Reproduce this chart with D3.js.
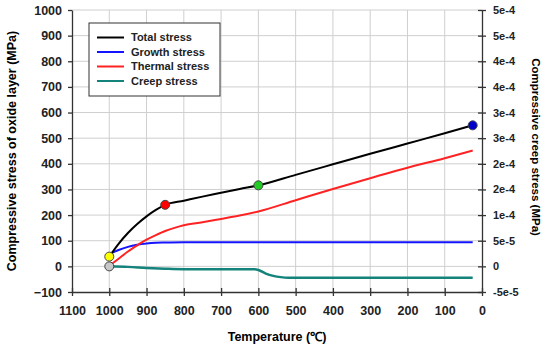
<!DOCTYPE html>
<html lang="en">
<head>
<meta charset="UTF-8">
<title>Oxide layer stress vs temperature</title>
<script src="https://d3js.org/d3.v7.min.js"></script>
<style>
    body { margin: 0; background: #fff; }
    svg { font-family: "Liberation Sans", Arial, sans-serif; font-weight: bold; }
    .grid line { stroke: #cfcfcf; stroke-width: 1; }
    .axis path, .axis line { stroke: #333; stroke-width: 1.3; }
    .axis text { fill: #222; }
</style>
</head>
<body>
<div id="chart"></div>
<script>
// temperatures (deg C) for each series, values in MPa
var totalTemp   = [1000, 975, 950, 925, 900, 875, 850, 800, 750, 700, 650, 600, 500, 400, 300, 200, 100, 25];
var totalVal    = [38, 88, 130, 165, 195, 220, 240, 256, 272, 287, 302, 316, 357, 398, 439, 479, 519, 550];

var growthTemp  = [1000, 975, 950, 925, 900, 875, 850, 800, 600, 400, 200, 25];
var growthVal   = [48, 64, 76, 84, 89, 92, 93, 94, 94, 94, 94, 94];

var thermalTemp = [1000, 975, 950, 925, 900, 875, 850, 825, 800, 750, 700, 650, 600, 500, 400, 300, 200, 100, 25];
var thermalVal  = [2, 30, 58, 82, 104, 122, 138, 150, 160, 172, 185, 198, 214, 258, 302, 344, 385, 422, 452];

// creep stress is plotted on the right axis
var creepTemp   = [1000, 950, 900, 850, 800, 700, 610, 600, 580, 560, 540, 520, 400, 200, 25];
var creepVal    = [0, -1e-6, -3e-6, -4.5e-6, -5.5e-6, -5.75e-6, -5.75e-6, -7e-6, -1.4e-5, -1.85e-5, -2.1e-5, -2.2e-5, -2.2e-5, -2.2e-5, -2.2e-5];

var markerTemp  = [1000, 1000, 850, 600, 25];
var markerVal   = [38, 0, 240, 316, 550];
var markerFill  = ["#ffff00", "#c8c8c8", "#ff0000", "#22cc22", "#0000cc"];

var xTicks      = [1100, 1000, 900, 800, 700, 600, 500, 400, 300, 200, 100, 0];
var yTicks      = [-100, 0, 100, 200, 300, 400, 500, 600, 700, 800, 900, 1000];
var y2Ticks     = [-5e-5, 0, 5e-5, 1e-4, 1.5e-4, 2e-4, 2.5e-4, 3e-4, 3.5e-4, 4e-4, 4.5e-4, 5e-4];
var y2Labels    = ["-5e-5", "0", "5e-5", "1e-4", "2e-4", "2e-4", "3e-4", "3e-4", "4e-4", "4e-4", "5e-4", "5e-4"];

var seriesNames  = ["Total stress", "Growth stress", "Thermal stress", "Creep stress"];
var seriesColors = ["#000000", "#1414ff", "#ff2222", "#13837b"];

var W = 542, H = 348;
var pL = 72, pR = 482, pT = 10, pB = 292;

var svg = d3.select("#chart").append("svg")
    .attr("width", W)
    .attr("height", H);

var x = d3.scaleLinear().domain([1100, 0]).range([pL, pR]);
var y = d3.scaleLinear().domain([-100, 1000]).range([pB, pT]);
var y2 = d3.scaleLinear().domain([-5e-5, 5e-4]).range([pB, pT]);

// grid
var grid = svg.append("g").attr("class", "grid");
grid.selectAll("line.v").data(xTicks.filter(function(d) { return d > 0 && d < 1100; }))
    .enter().append("line")
    .attr("x1", function(d) { return x(d); }).attr("x2", function(d) { return x(d); })
    .attr("y1", pT).attr("y2", pB);
grid.selectAll("line.h").data(yTicks.filter(function(d) { return d > -100; }))
    .enter().append("line")
    .attr("x1", pL).attr("x2", pR)
    .attr("y1", function(d) { return y(d); }).attr("y2", function(d) { return y(d); });

// axes
var gx = svg.append("g").attr("class", "axis")
    .attr("transform", "translate(0," + pB + ")")
    .call(d3.axisBottom(x).tickValues(xTicks).tickFormat(d3.format("d"))
        .tickSize(4).tickSizeOuter(0).tickPadding(10));
gx.selectAll(".tick line").attr("y1", -4);
gx.selectAll("text").style("font-size", "12.5px");

var gy = svg.append("g").attr("class", "axis")
    .attr("transform", "translate(" + pL + ",0)")
    .call(d3.axisLeft(y).tickValues(yTicks).tickFormat(d3.format("d"))
        .tickSize(4).tickSizeOuter(0).tickPadding(6));
gy.selectAll("text").style("font-size", "12.5px");

var gy2 = svg.append("g").attr("class", "axis")
    .attr("transform", "translate(" + pR + ",0)")
    .call(d3.axisRight(y2).tickValues(y2Ticks)
        .tickFormat(function(d, i) { return y2Labels[i]; })
        .tickSize(4).tickSizeOuter(0).tickPadding(7));
gy2.selectAll(".tick line").attr("x1", -4);
gy2.selectAll("text").style("font-size", "11px");

// axis titles
svg.append("text")
    .attr("transform", "translate(16," + ((pT + pB) / 2) + ") rotate(-90)")
    .attr("text-anchor", "middle")
    .style("font-size", "12.5px")
    .text("Compressive stress of oxide layer (MPa)");

svg.append("text")
    .attr("transform", "translate(532," + 147 + ") rotate(90)")
    .attr("text-anchor", "middle")
    .style("font-size", "11.5px")
    .text("Compressive creep stress (MPa)");

svg.append("text")
    .attr("x", 277).attr("y", 341)
    .attr("text-anchor", "middle")
    .style("font-size", "12.5px")
    .text("Temperature (\u2103)");

// lines
function pts(ts, vs) { return ts.map(function(t, i) { return [t, vs[i]]; }); }

var lineLeft = d3.line()
    .x(function(d) { return x(d[0]); })
    .y(function(d) { return y(d[1]); })
    .curve(d3.curveMonotoneX);
var lineRight = d3.line()
    .x(function(d) { return x(d[0]); })
    .y(function(d) { return y2(d[1]); })
    .curve(d3.curveMonotoneX);

svg.append("path").datum(pts(creepTemp, creepVal))
    .attr("d", lineRight).attr("fill", "none")
    .attr("stroke", seriesColors[3]).attr("stroke-width", 2.5);
svg.append("path").datum(pts(growthTemp, growthVal))
    .attr("d", lineLeft).attr("fill", "none")
    .attr("stroke", seriesColors[1]).attr("stroke-width", 2);
svg.append("path").datum(pts(thermalTemp, thermalVal))
    .attr("d", lineLeft).attr("fill", "none")
    .attr("stroke", seriesColors[2]).attr("stroke-width", 2);
svg.append("path").datum(pts(totalTemp, totalVal))
    .attr("d", lineLeft).attr("fill", "none")
    .attr("stroke", seriesColors[0]).attr("stroke-width", 2);

// markers
svg.selectAll("circle.mk").data(markerTemp)
    .enter().append("circle")
    .attr("class", "mk")
    .attr("cx", function(d) { return x(d); })
    .attr("cy", function(d, i) { return y(markerVal[i]); })
    .attr("r", 4.5)
    .attr("fill", function(d, i) { return markerFill[i]; })
    .attr("stroke", "#444")
    .attr("stroke-width", 1);

// legend
var lg = svg.append("g");
lg.append("rect")
    .attr("x", 89).attr("y", 23).attr("width", 131).attr("height", 73)
    .attr("fill", "#fff").attr("stroke", "#333").attr("stroke-width", 1);
var items = lg.selectAll("g.item").data(seriesNames)
    .enter().append("g")
    .attr("transform", function(d, i) { return "translate(0," + (37.5 + i * 14.5) + ")"; });
items.append("line")
    .attr("x1", 97).attr("x2", 124)
    .attr("stroke", function(d, i) { return seriesColors[i]; })
    .attr("stroke-width", 2);
items.append("text")
    .attr("x", 131).attr("dy", "0.35em")
    .style("font-size", "11px")
    .attr("fill", "#222")
    .text(function(d) { return d; });
</script>
</body>
</html>
